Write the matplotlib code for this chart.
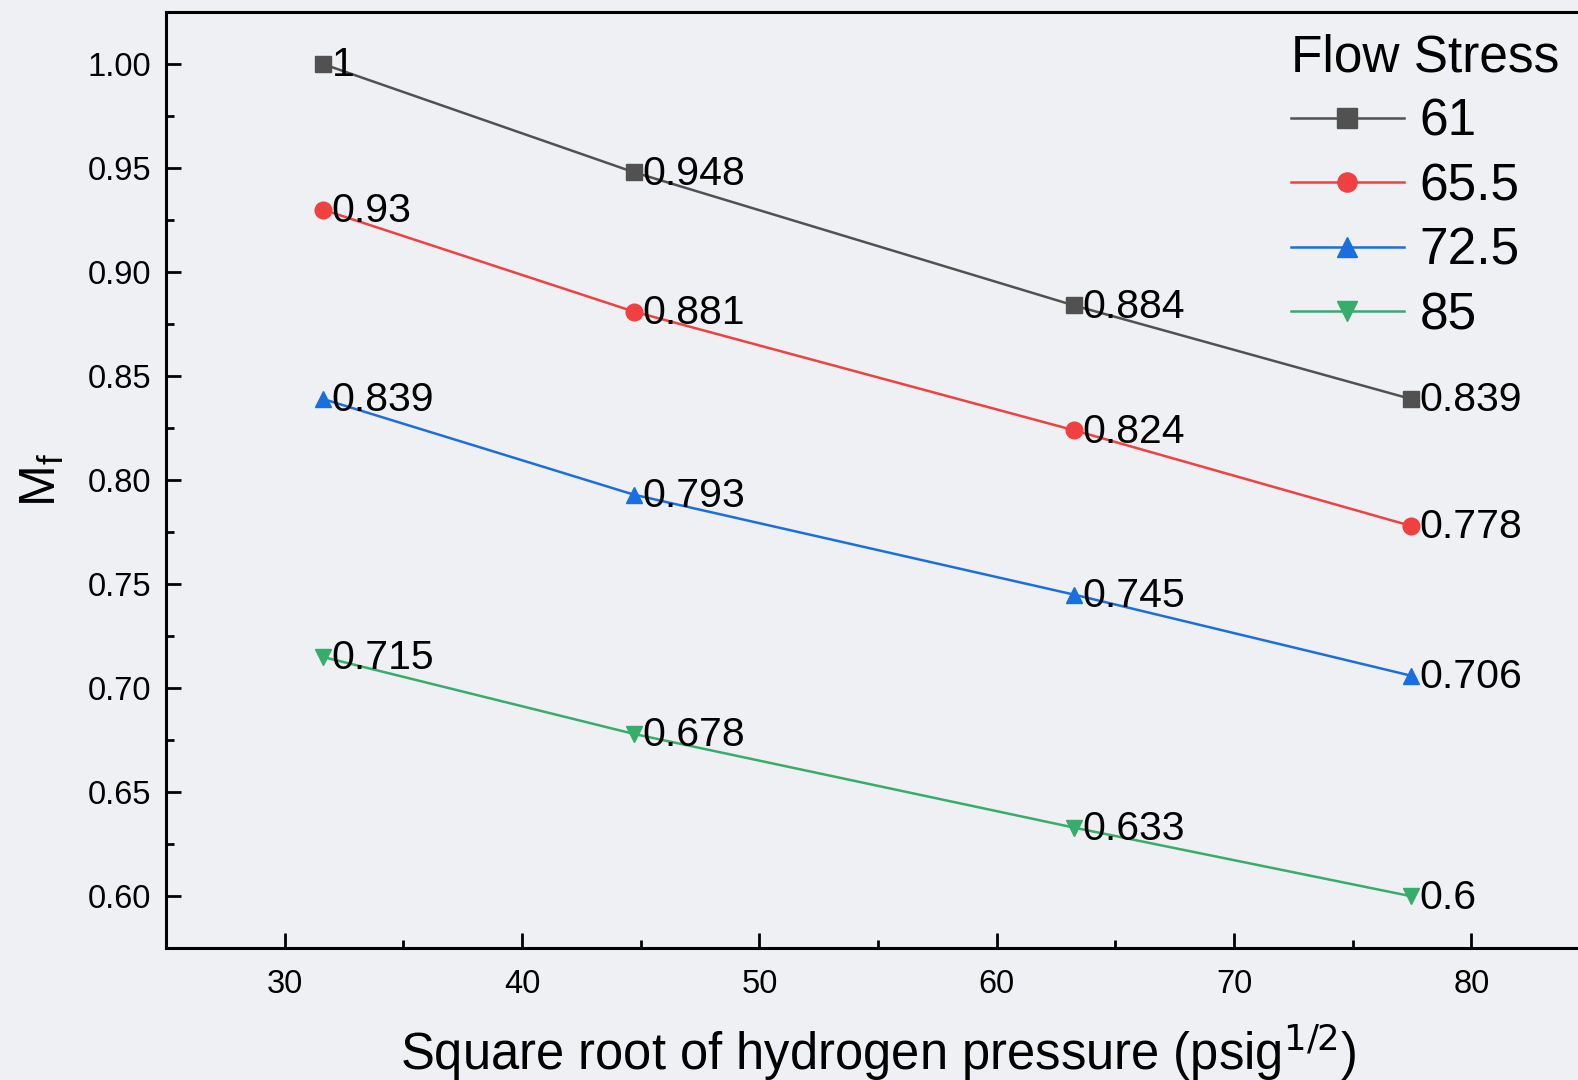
import matplotlib
matplotlib.use("Agg")
import matplotlib.pyplot as plt
from matplotlib.ticker import MultipleLocator

plt.rcParams['font.family'] = ['Liberation Sans', 'DejaVu Sans']

# data
sqrt_pressure = [31.62, 44.72, 63.25, 77.46]
flow_stress = ["61", "65.5", "72.5", "85"]
mf_61 = [1.0, 0.948, 0.884, 0.839]
mf_65_5 = [0.93, 0.881, 0.824, 0.778]
mf_72_5 = [0.839, 0.793, 0.745, 0.706]
mf_85 = [0.715, 0.678, 0.633, 0.6]
point_labels = [
    ["1", "0.948", "0.884", "0.839"],
    ["0.93", "0.881", "0.824", "0.778"],
    ["0.839", "0.793", "0.745", "0.706"],
    ["0.715", "0.678", "0.633", "0.6"],
]

series = [mf_61, mf_65_5, mf_72_5, mf_85]
colors = ["#515151", "#F14040", "#1A6FDF", "#37AD6B"]
markers = ["s", "o", "^", "v"]
bg = "#eef0f3"

fig = plt.figure(figsize=(15.78, 10.8), dpi=100, facecolor=bg)
ax = fig.add_axes([0.1052, 0.122, 0.9025, 0.8668])
ax.set_facecolor(bg)

for vals, labels, name, c, m in zip(series, point_labels, flow_stress, colors, markers):
    ax.plot(sqrt_pressure, vals, color=c, marker=m, markersize=12, linewidth=1.8, label=name)
    for x, y, t in zip(sqrt_pressure, vals, labels):
        ax.annotate(t, (x, y), xytext=(6, -1), textcoords="offset points",
                    ha="left", va="center", fontsize=29.5, color="black")

ax.set_xlim(25, 85)
ax.set_ylim(0.575, 1.025)
ax.xaxis.set_major_locator(MultipleLocator(10))
ax.xaxis.set_minor_locator(MultipleLocator(5))
ax.yaxis.set_major_locator(MultipleLocator(0.05))
ax.yaxis.set_minor_locator(MultipleLocator(0.025))
ax.yaxis.set_major_formatter(plt.FormatStrFormatter("%.2f"))

ax.tick_params(which="major", direction="in", length=11, width=2, labelsize=23.5)
ax.tick_params(axis="y", which="major", pad=10.5)
ax.tick_params(axis="x", which="major", pad=15)
ax.tick_params(which="minor", direction="in", length=5.5, width=2)
ax.tick_params(top=False, right=False, which="both")
for sp in ax.spines.values():
    sp.set_linewidth(2.2)

ax.set_xlabel("Square root of hydrogen pressure (psig$^{1/2}$)", fontsize=36.5, labelpad=15)
ax.set_ylabel("M$_\\mathregular{f}$", fontsize=36, labelpad=16)

leg = ax.legend(title="Flow Stress", fontsize=37, title_fontsize=37, frameon=False,
                loc="upper right", bbox_to_anchor=(1.0, 1.01), handlelength=2.2,
                labelspacing=0.3, handletextpad=0.3, borderaxespad=0.2, markerscale=1.15)
leg._legend_box.align = "left"

fig.savefig("out.png", dpi=100, facecolor=bg)
